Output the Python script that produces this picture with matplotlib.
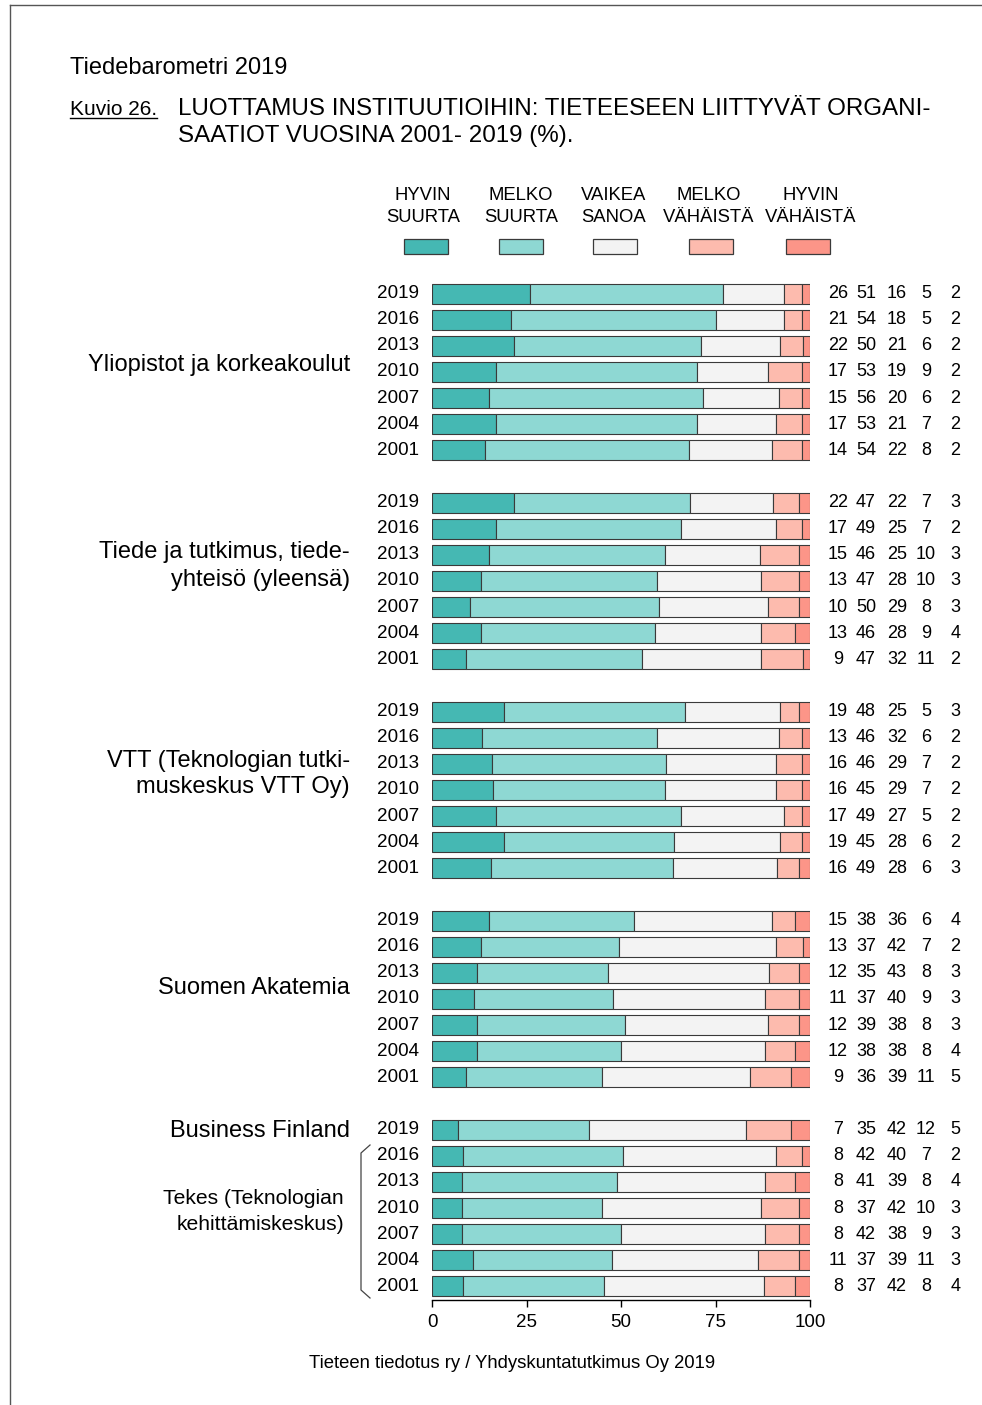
import numpy as np
import matplotlib.pyplot as plt
from matplotlib.patches import Rectangle

plt.rcParams['font.family'] = ['Liberation Sans', 'DejaVu Sans']

W, H = 982, 1405

# data: rows 2019 -> 2001, columns = hyvin suurta, melko suurta, vaikea sanoa,
# melko vähäistä, hyvin vähäistä
years = [2019, 2016, 2013, 2010, 2007, 2004, 2001]
categories = ["HYVIN\nSUURTA", "MELKO\nSUURTA", "VAIKEA\nSANOA",
              "MELKO\nVÄHÄISTÄ", "HYVIN\nVÄHÄISTÄ"]
colors = ["#45b8b3", "#8ed8d3", "#f3f3f3", "#fdbbae", "#fc9588"]

yliopistot = [[26, 51, 16, 5, 2],
              [21, 54, 18, 5, 2],
              [22, 50, 21, 6, 2],
              [17, 53, 19, 9, 2],
              [15, 56, 20, 6, 2],
              [17, 53, 21, 7, 2],
              [14, 54, 22, 8, 2]]
tiede = [[22, 47, 22, 7, 3],
         [17, 49, 25, 7, 2],
         [15, 46, 25, 10, 3],
         [13, 47, 28, 10, 3],
         [10, 50, 29, 8, 3],
         [13, 46, 28, 9, 4],
         [9, 47, 32, 11, 2]]
vtt = [[19, 48, 25, 5, 3],
       [13, 46, 32, 6, 2],
       [16, 46, 29, 7, 2],
       [16, 45, 29, 7, 2],
       [17, 49, 27, 5, 2],
       [19, 45, 28, 6, 2],
       [16, 49, 28, 6, 3]]
akatemia = [[15, 38, 36, 6, 4],
            [13, 37, 42, 7, 2],
            [12, 35, 43, 8, 3],
            [11, 37, 40, 9, 3],
            [12, 39, 38, 8, 3],
            [12, 38, 38, 8, 4],
            [9, 36, 39, 11, 5]]
bf_tekes = [[7, 35, 42, 12, 5],
            [8, 42, 40, 7, 2],
            [8, 41, 39, 8, 4],
            [8, 37, 42, 10, 3],
            [8, 42, 38, 9, 3],
            [11, 37, 39, 11, 3],
            [8, 37, 42, 8, 4]]
groups = [yliopistot, tiede, vtt, akatemia, bf_tekes]

vals = np.array(groups).reshape(-1, 5)
ypos = np.array([g * 8 + r for g in range(len(groups)) for r in range(len(years))])
pct = vals / vals.sum(axis=1, keepdims=True) * 100
lefts = np.cumsum(pct, axis=1) - pct

fig = plt.figure(figsize=(W / 100, H / 100), dpi=100)

# pixel-coordinate overlay for the page decorations
deco = fig.add_axes([0, 0, 1, 1])
deco.set_xlim(0, W)
deco.set_ylim(H, 0)
deco.axis('off')

ax = fig.add_axes([432 / W, 1 - 1300 / H, 378 / W, 1030 / H])
for k in range(5):
    ax.barh(ypos, pct[:, k], left=lefts[:, k], height=0.765, color=colors[k],
            edgecolor='#3a3a3a', linewidth=0.8)

ax.set_xlim(0, 100)
ax.set_ylim(38.52, -0.9)
ax.set_xticks([0, 25, 50, 75, 100])
ax.set_yticks([])
for s in ['top', 'left', 'right']:
    ax.spines[s].set_visible(False)
ax.spines['bottom'].set_linewidth(1.0)
ax.tick_params(axis='x', length=5, width=1.0, pad=5, labelsize=13.5)
ax.patch.set_alpha(0)

# year labels and values
col_x = [107.4, 114.8, 123.0, 130.7, 138.4]
for y, row in zip(ypos, vals):
    ax.text(-3.4, y, str(years[y % 8]), ha='right', va='center', fontsize=13.6,
            clip_on=False)
    for cx, v in zip(col_x, row):
        ax.text(cx, y, str(v), ha='center', va='center', fontsize=13,
                clip_on=False)

# group labels (pixel positions of each line)
group_lines = [
    (350, [(365, "Yliopistot ja korkeakoulut")], 17),
    (350, [(552, "Tiede ja tutkimus, tiede-"), (580, "yhteisö (yleensä)")], 17),
    (350, [(761, "VTT (Teknologian tutki-"), (787, "muskeskus VTT Oy)")], 17),
    (350, [(988, "Suomen Akatemia")], 17),
    (350, [(1131, "Business Finland")], 17),
    (344, [(1198, "Tekes (Teknologian"), (1224, "kehittämiskeskus)")], 15.2),
]
for xr, lines, fs in group_lines:
    for py, s in lines:
        deco.text(xr, py, s, ha='right', va='center', fontsize=fs)

# bracket for Tekes years
deco.plot([370, 361, 361, 370], [1145, 1153, 1290, 1298], color='#444444', lw=0.9)

# legend
leg_x = [426, 521, 615, 711, 808]
lab_x = [423, 521, 614, 709, 811]
for cx, lx, lab, c in zip(leg_x, lab_x, categories, colors):
    l1, l2 = lab.split("\n")
    deco.text(lx, 196, l1, ha='center', va='center', fontsize=13.3)
    deco.text(lx, 218, l2, ha='center', va='center', fontsize=13.3)
    deco.add_patch(Rectangle((cx - 22, 239), 44, 15, facecolor=c,
                             edgecolor='#3a3a3a', linewidth=0.9))

# titles
deco.text(70, 74, "Tiedebarometri 2019", fontsize=17, va='baseline')
kuvio = deco.text(70, 115, "Kuvio 26.", fontsize=15, va='baseline')
deco.text(178, 115, "LUOTTAMUS INSTITUUTIOIHIN: TIETEESEEN LIITTYVÄT ORGANI-",
          fontsize=17.4, va='baseline')
deco.text(178, 142, "SAATIOT VUOSINA 2001- 2019 (%).", fontsize=17.4, va='baseline')
fig.canvas.draw()
bb = kuvio.get_window_extent()
deco.plot([bb.x0, bb.x1], [118, 118], color='black', lw=1.0)

deco.text(512, 1363, "Tieteen tiedotus ry / Yhdyskuntatutkimus Oy 2019",
          ha='center', va='center', fontsize=13.3)

# page frame
deco.plot([10, 982], [5, 5], color='#555555', lw=1.0)
deco.plot([10, 10], [5, 1405], color='#555555', lw=1.0)

fig.savefig("out.png", dpi=100)
